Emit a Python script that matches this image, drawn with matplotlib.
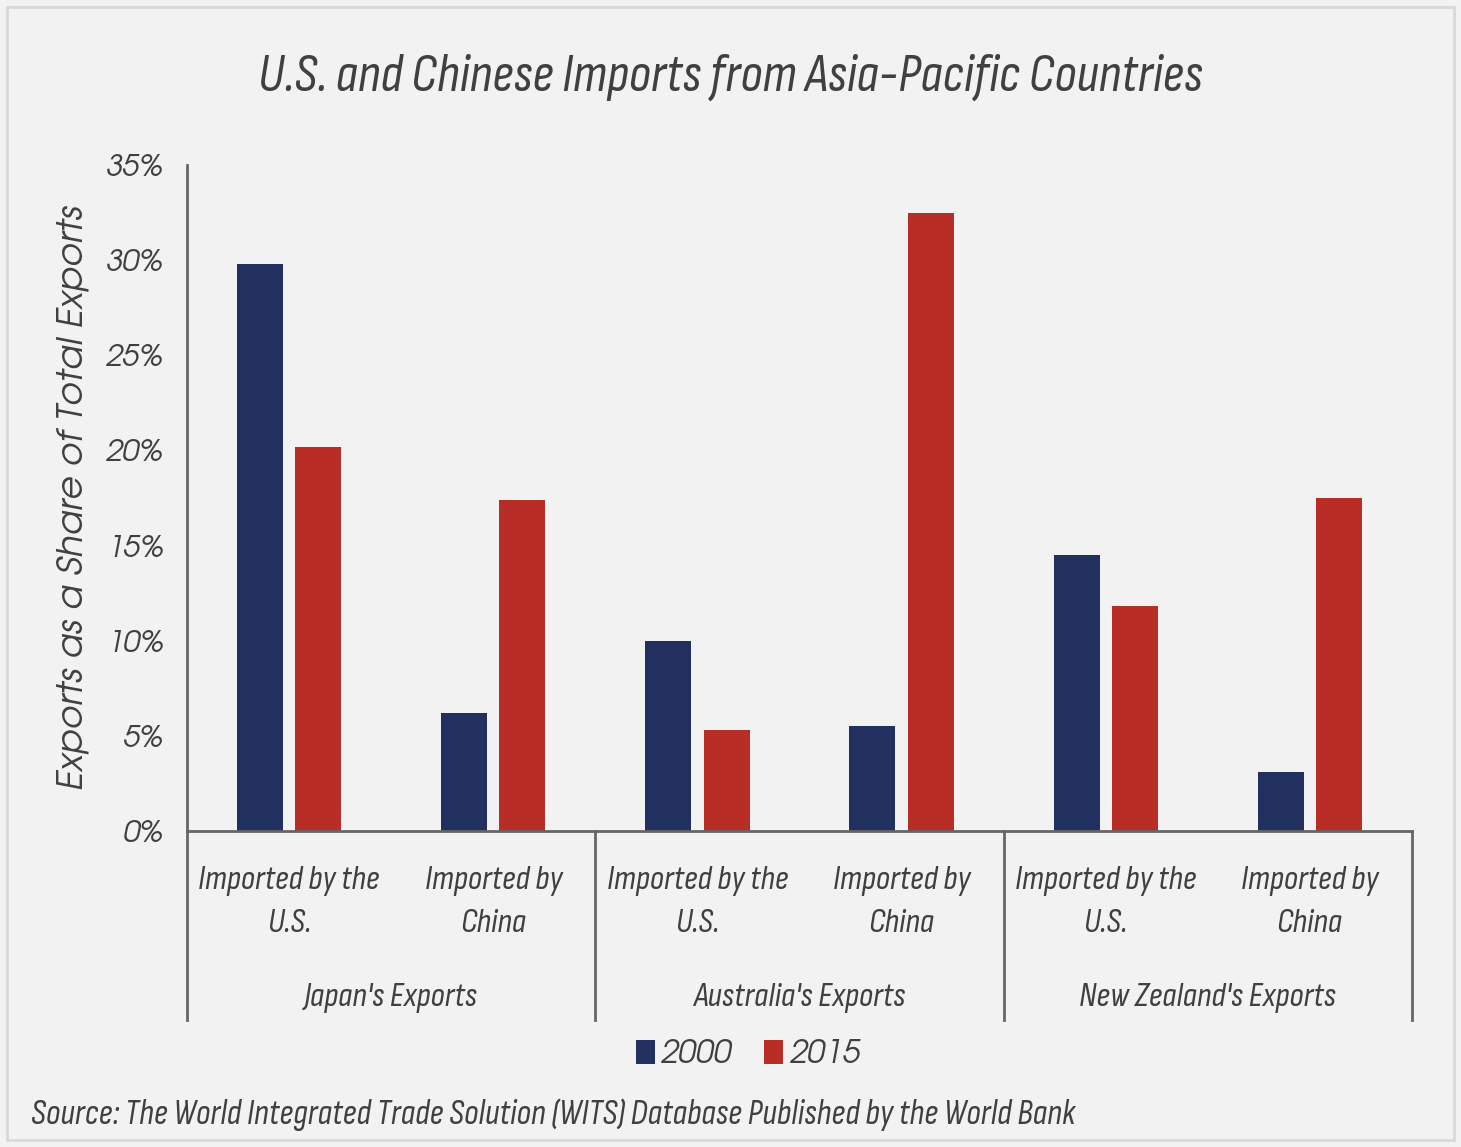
import matplotlib
matplotlib.use("Agg")
import matplotlib.pyplot as plt
import matplotlib.transforms as mtransforms
from matplotlib.patches import Rectangle
import numpy as np

# Data (share of total exports, %)
countries = ["Japan's Exports", "Australia's Exports", "New Zealand's Exports"]
categories = ["Imported by the\nU.S.", "Imported by\nChina"] * 3
vals_2000 = [29.8, 6.2, 10.0, 5.5, 14.5, 3.1]
vals_2015 = [20.2, 17.4, 5.3, 32.5, 11.8, 17.5]
series_names = ["2000", "2015"]
yticks = [0, 5, 10, 15, 20, 25, 30, 35]

NAVY = "#21305e"
RED = "#b82e26"
TXT = "#404040"
BG = "#f2f2f2"
AXC = "#666666"

NARROW = ["Sofia Sans Condensed", "Archivo Narrow", "DejaVu Sans"]
ROUND = ["TeX Gyre Adventor", "Lato", "DejaVu Sans"]

fig = plt.figure(figsize=(14.61, 11.47), dpi=100, facecolor=BG)
fig.patches.append(Rectangle((0.005, 0.006), 0.99, 0.988, transform=fig.transFigure,
                             facecolor="none", edgecolor="#d9d9d9", lw=2))
ax = fig.add_axes([0.128, 0.2755, 0.8385, 0.5807])
ax.set_facecolor(BG)

x = np.arange(len(categories))
w = 0.225
off = 0.143
ax.bar(x - off, vals_2000, w, color=NAVY, label=series_names[0], zorder=2)
ax.bar(x + off, vals_2015, w, color=RED, label=series_names[1], zorder=2)

ax.set_xlim(-0.5, len(categories) - 0.5)
ax.set_ylim(0, 35)
ax.set_yticks(yticks)
ax.set_yticklabels([f"{t}%" for t in yticks], family=ROUND, style="italic",
                   fontsize=22, color=TXT)
ax.tick_params(axis="y", length=0, pad=17)
ax.set_xticks([])
for s in ["top", "right"]:
    ax.spines[s].set_visible(False)
for s in ["left", "bottom"]:
    ax.spines[s].set_color(AXC)
    ax.spines[s].set_linewidth(2)

ax.set_ylabel("Exports as a Share of Total Exports", family=ROUND, style="italic",
              fontsize=26, color=TXT, labelpad=12)

# category labels and separators below the axis
trans = mtransforms.blended_transform_factory(ax.transData, ax.transAxes)
for xi, lab in zip(x, categories):
    ax.text(xi, -0.052, lab, transform=trans, ha="center", va="top",
            family=NARROW, style="italic", fontsize=25, color=TXT,
            linespacing=1.6)
for i, c in enumerate(countries):
    ax.text(2 * i + 0.5, -0.251, c, transform=trans, ha="center", va="center",
            family=NARROW, style="italic", fontsize=25, color=TXT)
for xs in np.arange(-0.5, len(categories), 2):
    ax.plot([xs, xs], [0, -0.284], transform=trans, color=AXC, lw=2, clip_on=False)

leg = fig.legend(loc="center", bbox_to_anchor=(0.512, 0.081), ncol=2, frameon=False,
                 prop={"family": ROUND, "style": "italic", "size": 23},
                 handlelength=0.6, handleheight=0.8, handletextpad=0.2,
                 columnspacing=1.0)
for t in leg.get_texts():
    t.set_color(TXT)

fig.text(0.5, 0.933, "U.S. and Chinese Imports from Asia-Pacific Countries",
         ha="center", va="center", family=NARROW, style="italic", fontsize=39,
         color=TXT)
fig.text(0.021, 0.028, "Source: The World Integrated Trade Solution (WITS) Database Published by the World Bank",
         ha="left", va="center", family=NARROW, style="italic", fontsize=25.5,
         color=TXT)

fig.savefig("out.png", dpi=100, facecolor=BG)
